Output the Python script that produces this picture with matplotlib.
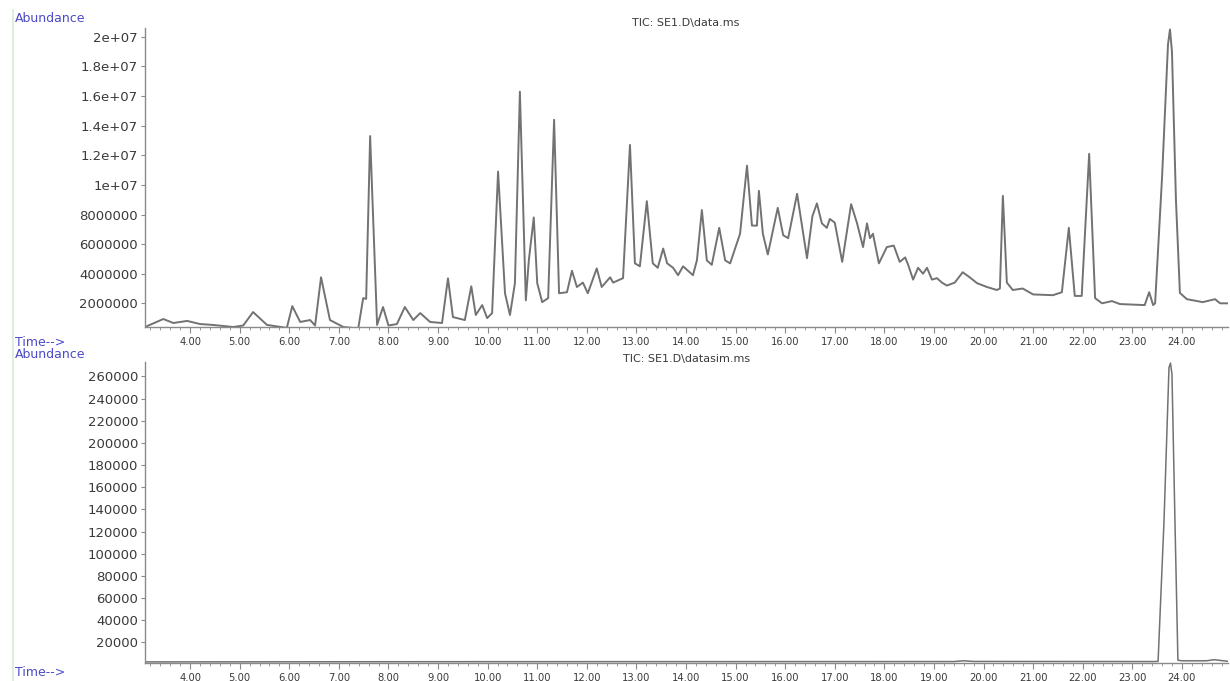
import matplotlib
matplotlib.use("Agg")
import matplotlib.pyplot as plt
from matplotlib.ticker import MultipleLocator, FixedLocator
from matplotlib.lines import Line2D

# TIC: SE1.D\data.ms  (time in min, abundance)
tic_time = [3.09, 3.46, 3.66, 3.94, 4.20, 4.46, 4.87, 5.07, 5.27, 5.55,
            5.95, 6.06, 6.22, 6.42, 6.52, 6.64, 6.82, 7.09, 7.39, 7.49,
            7.55, 7.63, 7.77, 7.89, 8.00, 8.17, 8.33, 8.50, 8.64, 8.84,
            9.08, 9.20, 9.30, 9.54, 9.67, 9.76, 9.89, 9.99, 10.09, 10.21,
            10.35, 10.45, 10.55, 10.65, 10.77, 10.83, 10.93, 11.00, 11.10, 11.22,
            11.34, 11.44, 11.60, 11.70, 11.80, 11.92, 12.02, 12.20, 12.30, 12.47,
            12.53, 12.73, 12.87, 12.97, 13.07, 13.21, 13.33, 13.43, 13.54, 13.62,
            13.74, 13.84, 13.94, 14.04, 14.14, 14.22, 14.32, 14.42, 14.52, 14.67,
            14.79, 14.89, 15.09, 15.23, 15.33, 15.43, 15.47, 15.55, 15.65, 15.85,
            15.96, 16.06, 16.24, 16.44, 16.55, 16.64, 16.74, 16.84, 16.90, 17.00,
            17.15, 17.33, 17.45, 17.57, 17.65, 17.71, 17.77, 17.89, 18.05, 18.19,
            18.31, 18.42, 18.48, 18.58, 18.68, 18.78, 18.86, 18.96, 19.06, 19.16,
            19.26, 19.42, 19.58, 19.72, 19.87, 20.07, 20.27, 20.33, 20.39, 20.47,
            20.59, 20.79, 21.00, 21.40, 21.58, 21.72, 21.84, 21.98, 22.13, 22.25,
            22.39, 22.59, 22.75, 23.25, 23.34, 23.42, 23.46, 23.60, 23.72, 23.76,
            23.80, 23.88, 23.96, 24.10, 24.42, 24.67, 24.77, 24.93]
tic_abund = [0.40, 0.94, 0.67, 0.81, 0.60, 0.54, 0.40, 0.50, 1.41, 0.54,
             0.34, 1.81, 0.74, 0.87, 0.50, 3.76, 0.87, 0.40, 0.30, 2.35,
             2.30, 13.3, 0.54, 1.75, 0.50, 0.60, 1.75, 0.87, 1.34, 0.74,
             0.67, 3.69, 1.07, 0.87, 3.15, 1.21, 1.88, 1.00, 1.34, 10.9,
             2.68, 1.21, 3.36, 16.3, 2.20, 4.90, 7.80, 3.36, 2.08, 2.35,
             14.4, 2.68, 2.75, 4.20, 3.10, 3.40, 2.68, 4.36, 3.10, 3.76,
             3.40, 3.70, 12.7, 4.70, 4.50, 8.90, 4.70, 4.40, 5.70, 4.70,
             4.40, 3.90, 4.50, 4.20, 3.90, 4.90, 8.30, 4.90, 4.60, 7.10,
             4.90, 4.70, 6.70, 11.3, 7.25, 7.25, 9.60, 6.70, 5.30, 8.45,
             6.60, 6.40, 9.40, 5.05, 7.90, 8.75, 7.40, 7.10, 7.70, 7.45,
             4.80, 8.70, 7.40, 5.80, 7.40, 6.40, 6.70, 4.70, 5.80, 5.90,
             4.80, 5.10, 4.60, 3.60, 4.40, 4.00, 4.40, 3.60, 3.70, 3.40,
             3.20, 3.40, 4.10, 3.76, 3.36, 3.10, 2.90, 3.00, 9.26, 3.40,
             2.90, 3.00, 2.60, 2.55, 2.75, 7.10, 2.50, 2.50, 12.1, 2.35,
             2.00, 2.15, 1.95, 1.88, 2.75, 1.88, 2.00, 10.5, 19.5, 20.5,
             19.0, 9.00, 2.70, 2.28, 2.08, 2.28, 2.00, 2.00]
tic_abund = [v * 1e6 for v in tic_abund]

# TIC: SE1.D\datasim.ms
sim_time = [3.09, 10.0, 19.4, 19.6, 19.8, 23.45, 23.52, 23.64, 23.74, 23.77,
            23.80, 23.86, 23.92, 24.0, 24.5, 24.65, 24.93]
sim_abund = [2500, 2700, 2800, 3500, 2900, 2800, 3000, 130000, 268000, 272000,
             262000, 130000, 4000, 3500, 3500, 4500, 3000]

x_ticks = list(range(4, 25))
top_yticks = [2e6, 4e6, 6e6, 8e6, 1e7, 1.2e7, 1.4e7, 1.6e7, 1.8e7, 2e7]
top_ylabels = ["2000000", "4000000", "6000000", "8000000", "1e+07",
               "1.2e+07", "1.4e+07", "1.6e+07", "1.8e+07", "2e+07"]
bot_yticks = list(range(20000, 260001, 20000))

W, H = 1230, 681
fig = plt.figure(figsize=(12.3, 6.81), dpi=100)
fig.patch.set_facecolor("white")

line_col = "#727272"
axis_col = "#8a8a8a"
text_col = "#3a3a3a"
blue = "#4a4ac8"


def px(x0, y0, x1, y1):
    return [x0 / W, 1 - y1 / H, (x1 - x0) / W, (y1 - y0) / H]


def style(ax, yticks, ylabels):
    for s in ["top", "right"]:
        ax.spines[s].set_visible(False)
    for s in ["left", "bottom"]:
        ax.spines[s].set_color(axis_col)
        ax.spines[s].set_linewidth(1.0)
    ax.set_xlim(3.09, 24.93)
    ax.xaxis.set_major_locator(FixedLocator(x_ticks))
    ax.set_xticklabels([f"{t:.2f}" for t in x_ticks])
    ax.xaxis.set_minor_locator(MultipleLocator(0.2))
    ax.set_yticks(yticks)
    ax.set_yticklabels(ylabels)
    ax.tick_params(axis="x", which="major", length=4, width=0.8, color=axis_col,
                   labelsize=7.2, labelcolor=text_col, pad=3)
    ax.tick_params(axis="x", which="minor", length=2, width=0.6, color=axis_col)
    ax.tick_params(axis="y", which="major", length=3, width=0.8, color=axis_col,
                   labelsize=9.5, labelcolor=text_col, pad=2)


# top panel
ax1 = fig.add_axes(px(145, 28, 1228, 327))
ax1.plot(tic_time, tic_abund, color=line_col, lw=1.4)
ax1.set_ylim(4e5, 2.06e7)
style(ax1, top_yticks, top_ylabels)

# bottom panel
ax2 = fig.add_axes(px(145, 362, 1228, 663))
ax2.plot(sim_time, sim_abund, color=line_col, lw=1.1)
ax2.set_ylim(1500, 273000)
style(ax2, bot_yticks, [str(v) for v in bot_yticks])

fig.text(686 / W, 1 - 23 / H, "TIC: SE1.D\\data.ms", ha="center", va="center",
         fontsize=8, color=text_col)
fig.text(687 / W, 1 - 359 / H, "TIC: SE1.D\\datasim.ms", ha="center", va="center",
         fontsize=8, color=text_col)

fig.text(15 / W, 1 - 18 / H, "Abundance", ha="left", va="center", fontsize=9, color=blue)
fig.text(15 / W, 1 - 343 / H, "Time-->", ha="left", va="center", fontsize=9, color=blue)
fig.text(15 / W, 1 - 354 / H, "Abundance", ha="left", va="center", fontsize=9, color=blue)
fig.text(15 / W, 1 - 679 / H, "Time-->", ha="left", va="bottom", fontsize=9, color=blue)

# faint page border on the left
fig.add_artist(Line2D([13 / W, 13 / W], [0, 1 - 10 / H], color="#d8ecd8", lw=1.2))

fig.savefig("out.png", dpi=100, facecolor="white")
